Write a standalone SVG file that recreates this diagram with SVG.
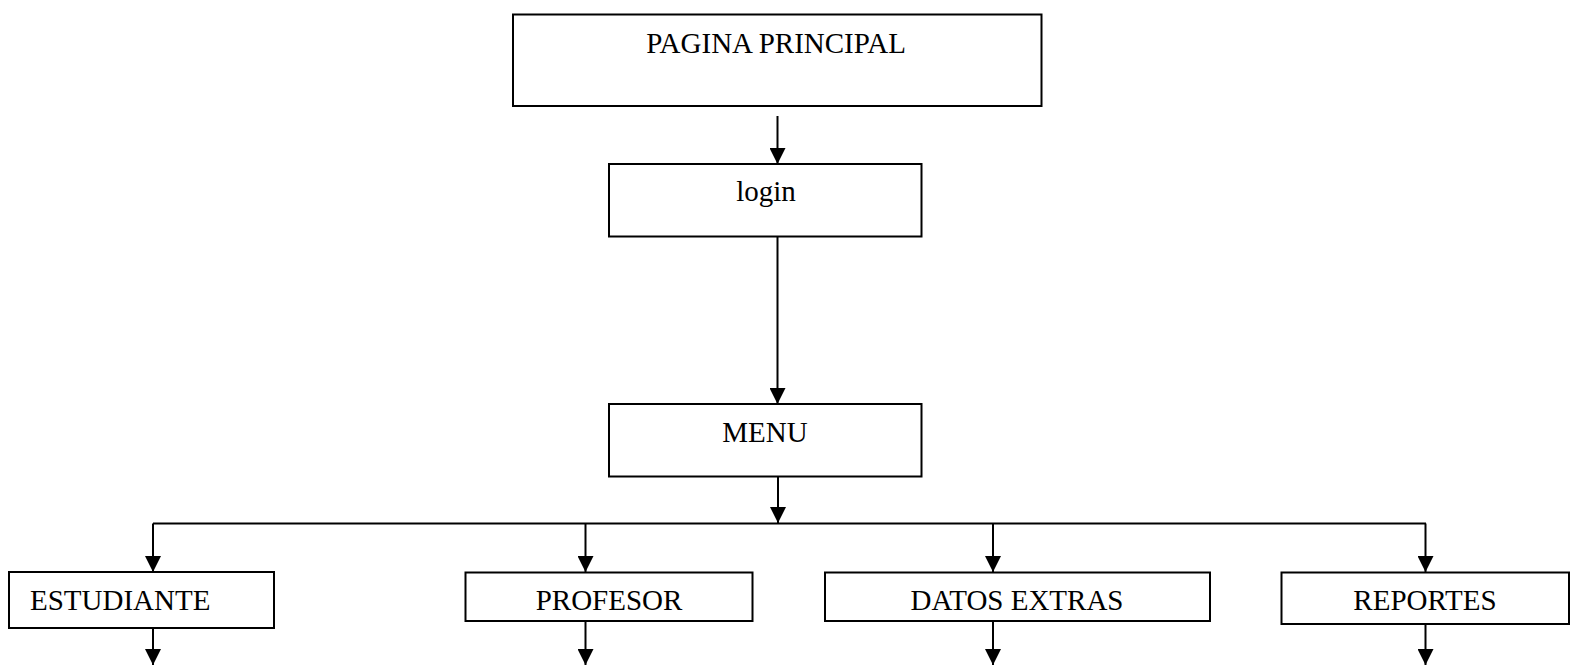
<svg xmlns="http://www.w3.org/2000/svg" width="1571" height="665" viewBox="0 0 1571 665">
<style>
.box{fill:#fff;stroke:#000;stroke-width:2}
.lbl{font-family:"Liberation Serif","Times New Roman",serif;font-size:29px;fill:#000}
.c{text-anchor:middle}
.con{fill:none;stroke:#000;stroke-width:2}
</style>
<defs>
<marker id="ah" markerUnits="userSpaceOnUse" markerWidth="16" markerHeight="16" refX="15" refY="7.5" orient="auto" viewBox="0 0 15 15">
<path d="M0,0 L15,7.5 L0,15 Z" fill="#000"/>
</marker>
</defs>
<rect width="1571" height="665" fill="#fff"/>
<g id="connectors">
<line class="con" x1="777.5" y1="116" x2="777.5" y2="164" marker-end="url(#ah)"/>
<line class="con" x1="777.5" y1="237" x2="777.5" y2="404" marker-end="url(#ah)"/>
<line class="con" x1="778" y1="477" x2="778" y2="523" marker-end="url(#ah)"/>
<line class="con" x1="153" y1="523.5" x2="1426" y2="523.5"/>
<line class="con" x1="153" y1="523.5" x2="153" y2="572" marker-end="url(#ah)"/>
<line class="con" x1="585.5" y1="523.5" x2="585.5" y2="572" marker-end="url(#ah)"/>
<line class="con" x1="993" y1="523.5" x2="993" y2="572" marker-end="url(#ah)"/>
<line class="con" x1="1425.5" y1="523.5" x2="1425.5" y2="572" marker-end="url(#ah)"/>
<line class="con" x1="153" y1="628" x2="153" y2="665" marker-end="url(#ah)"/>
<line class="con" x1="585.5" y1="621" x2="585.5" y2="665" marker-end="url(#ah)"/>
<line class="con" x1="993" y1="621" x2="993" y2="665" marker-end="url(#ah)"/>
<line class="con" x1="1425.5" y1="624" x2="1425.5" y2="665" marker-end="url(#ah)"/>
</g>
<g id="pagina-principal">
<rect class="box" x="513" y="14.5" width="528.5" height="91.5"/>
<text class="lbl c" x="776" y="53">PAGINA PRINCIPAL</text>
</g>
<g id="login">
<rect class="box" x="609" y="164" width="312.5" height="72.5"/>
<text class="lbl c" x="766" y="201">login</text>
</g>
<g id="menu">
<rect class="box" x="609" y="404" width="312.5" height="72.5"/>
<text class="lbl c" x="765" y="442">MENU</text>
</g>
<g id="estudiante">
<rect class="box" x="9" y="572" width="265" height="56"/>
<text class="lbl" x="30" y="610">ESTUDIANTE</text>
</g>
<g id="profesor">
<rect class="box" x="465.5" y="572.5" width="287" height="48.5"/>
<text class="lbl c" x="609" y="610">PROFESOR</text>
</g>
<g id="datos-extras">
<rect class="box" x="825" y="572.5" width="385" height="48.5"/>
<text class="lbl c" x="1017" y="610">DATOS EXTRAS</text>
</g>
<g id="reportes">
<rect class="box" x="1281.5" y="572.5" width="287.5" height="51.5"/>
<text class="lbl c" x="1425" y="610">REPORTES</text>
</g>
</svg>
